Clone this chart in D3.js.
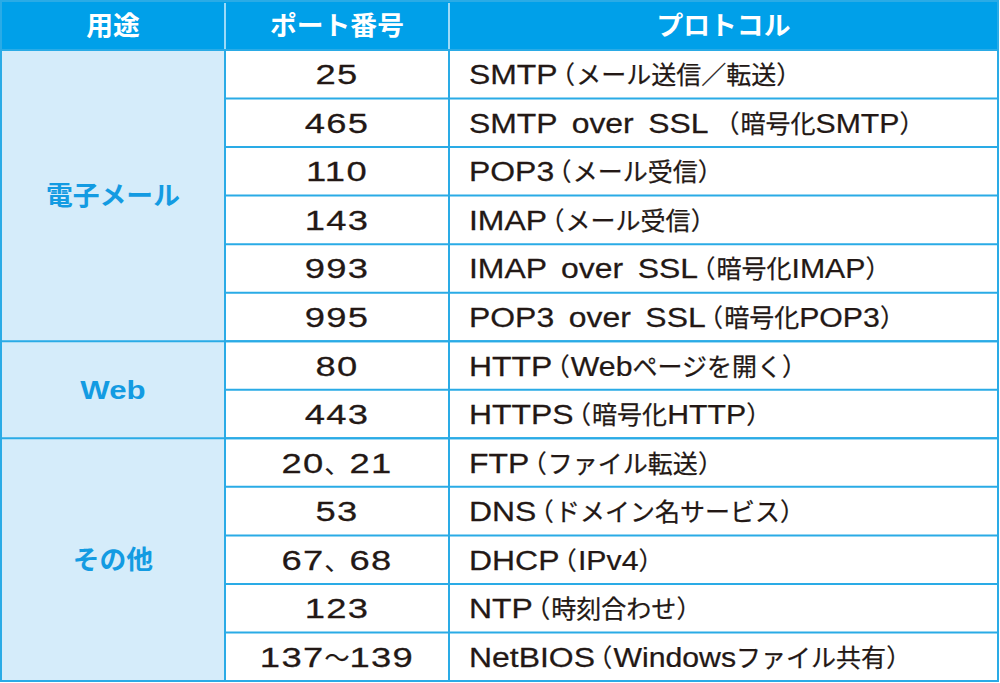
<!DOCTYPE html>
<html><head><meta charset="utf-8">
<script src="https://cdn.jsdelivr.net/npm/d3@7"></script>
<style>html,body{margin:0;padding:0;background:#fff;}svg{display:block;}</style>
</head><body><svg id="c" width="1000" height="683"></svg>
<script>
const headers = ["用途", "ポート番号", "プロトコル"];
const usageGroups = ["電子メール", "Web", "その他"];
const usageSpans = [6, 2, 5];
const ports = ["25", "465", "110", "143", "993", "995", "80", "443", "20、21", "53", "67、68", "123", "137～139"];
const protocols = [
  "SMTP（メール送信／転送）",
  "SMTP over SSL （暗号化SMTP）",
  "POP3（メール受信）",
  "IMAP（メール受信）",
  "IMAP over SSL（暗号化IMAP）",
  "POP3 over SSL（暗号化POP3）",
  "HTTP（Webページを開く）",
  "HTTPS（暗号化HTTP）",
  "FTP（ファイル転送）",
  "DNS（ドメイン名サービス）",
  "DHCP（IPv4）",
  "NTP（時刻合わせ）",
  "NetBIOS（Windowsファイル共有）"
];

(function () {
const xL = 1, xR = 998, yT = 1, headBottom = 50, yB = 681;
const colEdges = [xL, 225, 449, xR];
const headBlue = "#00a0e9", lineBlue = "#2aabe6", lightBlue = "#d5ecfa", textCol = "#231815", catBlue = "#139be2";

const svg = d3.select("#c");
const y = d3.scaleBand().domain(d3.range(ports.length)).range([headBottom, yB]).paddingInner(0).paddingOuter(0);

const isCJK = ch => /[\u3000-\u303f\u3040-\u30ff\u4e00-\u9fff\uff00-\uffef]/.test(ch);
const isParen = ch => ch === "（" || ch === "）";
function splitRuns(s) {
  const runs = [];
  let inParen = false;
  for (const ch of s) {
    let k;
    if (isParen(ch)) { inParen = ch === "（"; k = inParen ? "open" : "close"; }
    else if (isCJK(ch)) k = "cjk";
    else k = inParen ? "narrow" : "wide";
    if (runs.length && runs[runs.length - 1].k === k && k !== "open" && k !== "close") runs[runs.length - 1].t += ch;
    else runs.push({ t: ch, k });
  }
  return runs;
}
function drawRuns(parent, s, x, baseline, anchor, st) {
  const g = parent.append("g");
  let cx = 0;
  for (const r of splitRuns(s)) {
    const o = st[r.k] || st.cjk;
    cx += o.pre || 0;
    const t = g.append("text")
      .attr("transform", `translate(${cx},0) scale(${o.sx},1)`)
      .attr("font-family", o.family)
      .attr("font-size", o.size)
      .attr("font-weight", o.weight)
      .attr("fill", st.fill)
      .style("white-space", "pre")
      .style("word-spacing", (o.ws || 0) + "px")
      .style("letter-spacing", (o.ls || 0) + "px")
      .style("font-feature-settings", o.feat || "normal")
      .text(r.t);
    if (st.stroke) t.attr("stroke", st.fill).attr("stroke-width", st.stroke);
    cx += t.node().getComputedTextLength() * o.sx + (o.post || 0);
  }
  const dx = anchor === "middle" ? x - cx / 2 : x;
  g.attr("transform", `translate(${dx},${baseline})`);
  return g;
}

const LAT = "Liberation Sans, Arial, sans-serif", JP = "Noto Sans CJK JP";
const bodyStyle = {
  fill: textCol, stroke: 0.25,
  wide: { family: LAT, size: 28, weight: 400, sx: 1.14, ws: 5 },
  narrow: { family: LAT, size: 27, weight: 400, sx: 1.12 },
  cjk: { family: JP, size: 25, weight: 400, sx: 1.0 },
  open: { family: JP, size: 25, weight: 400, sx: 1.0, feat: "'palt' 1", pre: 4, post: 2 },
  close: { family: JP, size: 25, weight: 400, sx: 1.0, feat: "'palt' 1", pre: 1, post: 2 }
};
const portStyle = {
  fill: textCol, stroke: 0.25,
  wide: { family: LAT, size: 28, weight: 400, sx: 1.3, ls: 1 },
  cjk: { family: JP, size: 25, weight: 400, sx: 1.0 }
};
const headStyle = {
  fill: "#fff",
  wide: { family: LAT, size: 25, weight: 700, sx: 1.1 },
  cjk: { family: JP, size: 26, weight: 700, sx: 1.03 }
};
const catStyle = {
  fill: catBlue,
  wide: { family: LAT, size: 26, weight: 700, sx: 1.2 },
  cjk: { family: JP, size: 26, weight: 700, sx: 1.03 }
};

svg.append("rect").attr("x", xL).attr("y", yT).attr("width", xR - xL).attr("height", headBottom - yT).attr("fill", headBlue);
svg.append("rect").attr("x", xL).attr("y", headBottom).attr("width", colEdges[1] - xL).attr("height", yB - headBottom).attr("fill", lightBlue);

headers.forEach((h, i) => {
  const cx = (colEdges[i] + colEdges[i + 1]) / 2;
  drawRuns(svg, h, cx, 35, "middle", headStyle);
});
[colEdges[1], colEdges[2]].forEach(x => {
  svg.append("line").attr("x1", x).attr("x2", x).attr("y1", 3).attr("y2", headBottom)
    .attr("stroke", "#cfeefc").attr("stroke-width", 1.5);
});

ports.forEach((p, i) => {
  if (i > 0) {
    svg.append("line").attr("x1", colEdges[1]).attr("x2", xR).attr("y1", y(i)).attr("y2", y(i))
      .attr("stroke", lineBlue).attr("stroke-width", 2);
  }
});
let acc = 0;
const groupStart = [];
usageSpans.forEach((n, gi) => {
  groupStart.push(acc);
  if (gi > 0) {
    svg.append("line").attr("x1", xL).attr("x2", xR).attr("y1", y(acc)).attr("y2", y(acc))
      .attr("stroke", lineBlue).attr("stroke-width", 2);
  }
  acc += n;
});
[colEdges[1], colEdges[2]].forEach(x => {
  svg.append("line").attr("x1", x).attr("x2", x).attr("y1", headBottom).attr("y2", yB)
    .attr("stroke", lineBlue).attr("stroke-width", 2);
});
svg.append("line").attr("x1", xL).attr("x2", xR).attr("y1", headBottom).attr("y2", headBottom)
  .attr("stroke", lineBlue).attr("stroke-width", 2);
svg.append("rect").attr("x", xL).attr("y", yT).attr("width", xR - xL).attr("height", yB - yT)
  .attr("fill", "none").attr("stroke", lineBlue).attr("stroke-width", 2);

usageGroups.forEach((u, gi) => {
  const y0 = y(groupStart[gi]);
  const y1 = y(groupStart[gi] + usageSpans[gi] - 1) + y.bandwidth();
  drawRuns(svg, u, (colEdges[0] + colEdges[1]) / 2, (y0 + y1) / 2 + 9, "middle", catStyle);
});

ports.forEach((p, i) => {
  const base = y(i) + y.bandwidth() / 2 + 10;
  drawRuns(svg, p, (colEdges[1] + colEdges[2]) / 2, base, "middle", portStyle);
  drawRuns(svg, protocols[i], 469, base, "start", bodyStyle);
});
})();
</script></body></html>
